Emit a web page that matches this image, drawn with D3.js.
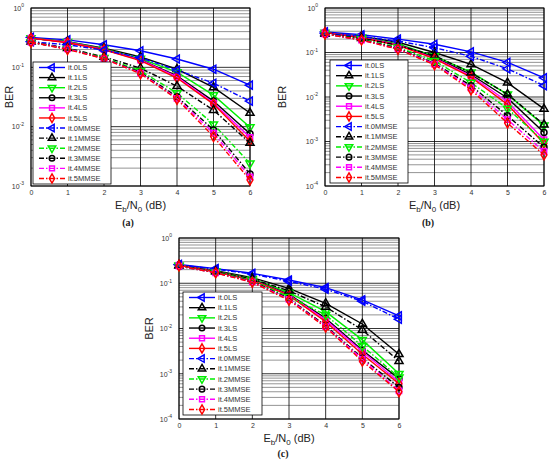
<!DOCTYPE html>
<html>
<head>
<meta charset="utf-8">
<script src="https://cdn.jsdelivr.net/npm/d3@7"></script>
<style>
  body { margin: 0; background: #fff; }
  svg { display: block; font-family: "Liberation Sans", Arial, sans-serif; }
</style>
</head>
<body>
<svg id="chart" width="550" height="463"></svg>
<script>
// Data (BER, x = Eb/N0 in dB)
var snrDb = [0, 1, 2, 3, 4, 5, 6]
var seriesNames = ["it.0LS", "it.1LS", "it.2LS", "it.3LS", "it.4LS", "it.5LS",
                   "it.0MMSE", "it.1MMSE", "it.2MMSE", "it.3MMSE", "it.4MMSE", "it.5MMSE"]
var panelLabels = ["(a)", "(b)", "(c)"]
var xTickLabels = ["0", "1", "2", "3", "4", "5", "6"]

var berA = [
  [0.32, 0.29, 0.24, 0.19, 0.138, 0.093, 0.050],
  [0.31, 0.27, 0.21, 0.15, 0.093, 0.046, 0.017],
  [0.31, 0.27, 0.205, 0.14, 0.083, 0.034, 0.0098],
  [0.31, 0.265, 0.20, 0.135, 0.072, 0.027, 0.0076],
  [0.31, 0.265, 0.20, 0.133, 0.069, 0.025, 0.0066],
  [0.31, 0.26, 0.198, 0.13, 0.066, 0.024, 0.0057],
  [0.27, 0.24, 0.195, 0.145, 0.09, 0.054, 0.027],
  [0.27, 0.21, 0.15, 0.097, 0.048, 0.019, 0.0053],
  [0.265, 0.205, 0.145, 0.087, 0.037, 0.011, 0.0024],
  [0.265, 0.205, 0.142, 0.082, 0.032, 0.0088, 0.0016],
  [0.265, 0.205, 0.14, 0.08, 0.030, 0.0078, 0.00142],
  [0.265, 0.20, 0.14, 0.078, 0.029, 0.0068, 0.00126]
]
var berB = [
  [0.29, 0.25, 0.20, 0.153, 0.103, 0.060, 0.027],
  [0.28, 0.23, 0.17, 0.10, 0.054, 0.021, 0.0054],
  [0.28, 0.22, 0.155, 0.083, 0.036, 0.0115, 0.0023],
  [0.28, 0.22, 0.15, 0.078, 0.032, 0.0095, 0.0016],
  [0.28, 0.22, 0.148, 0.075, 0.030, 0.0078, 0.0011],
  [0.28, 0.215, 0.145, 0.073, 0.028, 0.0068, 0.0009],
  [0.27, 0.23, 0.18, 0.128, 0.082, 0.043, 0.018],
  [0.26, 0.21, 0.145, 0.085, 0.035, 0.0115, 0.0024],
  [0.26, 0.20, 0.13, 0.065, 0.021, 0.0055, 0.0010],
  [0.26, 0.195, 0.125, 0.057, 0.018, 0.0038, 0.00074],
  [0.26, 0.19, 0.12, 0.055, 0.016, 0.0031, 0.0006],
  [0.26, 0.19, 0.118, 0.053, 0.0145, 0.0026, 0.0005]
]
var berC = [
  [0.26, 0.21, 0.166, 0.118, 0.080, 0.043, 0.019],
  [0.25, 0.19, 0.133, 0.077, 0.036, 0.0126, 0.0027],
  [0.25, 0.185, 0.125, 0.062, 0.0235, 0.0056, 0.0010],
  [0.25, 0.18, 0.12, 0.057, 0.0168, 0.0033, 0.00078],
  [0.25, 0.18, 0.118, 0.055, 0.0155, 0.0031, 0.00066],
  [0.25, 0.18, 0.116, 0.054, 0.0141, 0.0027, 0.0006],
  [0.255, 0.205, 0.16, 0.11, 0.074, 0.040, 0.016],
  [0.245, 0.18, 0.125, 0.068, 0.030, 0.0093, 0.0019],
  [0.24, 0.175, 0.115, 0.05, 0.020, 0.0041, 0.00083],
  [0.24, 0.17, 0.11, 0.046, 0.0115, 0.0022, 0.0005],
  [0.24, 0.17, 0.107, 0.044, 0.011, 0.0021, 0.00042],
  [0.24, 0.17, 0.105, 0.042, 0.0107, 0.0019, 0.0004]
]

////////////////////////////////////////////////////////////////////////////////
// Styles
var colors = ["#0000ff", "#000000", "#00ee00", "#000000", "#ff00ff", "#ff0000"]
var symbols = [
  [d3.symbolTriangle, -90], [d3.symbolTriangle, 0], [d3.symbolTriangle, 180],
  [d3.symbolCircle, 0], [d3.symbolSquare, 0], [d3.symbolDiamond, 0]
]
var dashDot = "5,2,1.5,2"

var panels = [
  {data: berA, x0: 31, x1: 250, top: 8, bottom: 186, low: 1e-3, yLab: 13,
   legend: {x: 33, y: 62, w: 78, h: 122}, capX: 128, capY: 226},
  {data: berB, x0: 325, x1: 544, top: 8, bottom: 186, low: 1e-4, yLab: 286,
   legend: {x: 330, y: 60, w: 78, h: 123}, capX: 428, capY: 226},
  {data: berC, x0: 179, x1: 399, top: 238, bottom: 419, low: 1e-4, yLab: 153,
   legend: {x: 183, y: 292, w: 79, h: 123}, capX: 283, capY: 457}
]

var svg = d3.select("#chart")

panels.forEach(function(p, pi) {
  var x = d3.scaleLinear().domain([0, 6]).range([p.x0, p.x1])
  var y = d3.scaleLog().domain([p.low, 1]).range([p.bottom, p.top])
  var g = svg.append("g")
  var w = p.x1 - p.x0

  // minor grid
  var minor = []
  for (var e = Math.log10(p.low); e < 0; e++)
    for (var m = 2; m <= 9; m++) minor.push(m * Math.pow(10, e))
  g.selectAll(".minor").data(minor).join("line")
    .attr("x1", p.x0).attr("x2", p.x1)
    .attr("y1", d => y(d)).attr("y2", d => y(d))
    .attr("stroke", "#666").attr("stroke-width", 0.7)

  // major grid
  var decades = d3.range(Math.log10(p.low), 1).map(e => Math.pow(10, e))
  g.selectAll(".major").data(decades).join("line")
    .attr("x1", p.x0).attr("x2", p.x1)
    .attr("y1", d => y(d)).attr("y2", d => y(d))
    .attr("stroke", "#000").attr("stroke-width", 0.8)
  g.selectAll(".vgrid").data(snrDb).join("line")
    .attr("x1", d => x(d)).attr("x2", d => x(d))
    .attr("y1", p.top).attr("y2", p.bottom)
    .attr("stroke", "#000").attr("stroke-width", 0.8)

  // frame
  g.append("rect").attr("x", p.x0).attr("y", p.top)
    .attr("width", w).attr("height", p.bottom - p.top)
    .attr("fill", "none").attr("stroke", "#000").attr("stroke-width", 0.9)

  // x tick labels
  g.append("g").attr("transform", "translate(0," + p.bottom + ")")
    .call(d3.axisBottom(x).tickValues(snrDb).tickSize(0).tickPadding(4)
      .tickFormat((d, i) => xTickLabels[i]))
    .call(a => a.select(".domain").remove())
    .selectAll("text").attr("font-size", 7).attr("fill", "#333")
    .attr("font-family", "Liberation Sans, Arial, sans-serif")

  // y tick labels 10^k
  var yAxis = g.append("g").attr("transform", "translate(" + p.x0 + ",0)")
    .call(d3.axisLeft(y).tickValues(decades).tickSize(0).tickPadding(3).tickFormat(""))
  yAxis.select(".domain").remove()
  yAxis.selectAll("text").each(function(d) {
    var t = d3.select(this).attr("font-size", 7).attr("fill", "#333")
      .attr("font-family", "Liberation Sans, Arial, sans-serif")
    t.append("tspan").text("10")
    t.append("tspan").attr("dy", -3.5).attr("font-size", 5).text(Math.round(Math.log10(d)))
    t.attr("dy", "0.32em").attr("dx", -4)
  })

  // axis labels
  var cx = (p.x0 + p.x1) / 2
  var xl = g.append("text").attr("x", cx).attr("y", p.bottom + 23)
    .attr("text-anchor", "middle").attr("font-size", 11).attr("fill", "#222")
  xl.append("tspan").text("E")
  xl.append("tspan").attr("dy", 3).attr("font-size", 8).text("b")
  xl.append("tspan").attr("dy", -3).text("/N")
  xl.append("tspan").attr("dy", 3).attr("font-size", 8).text("0")
  xl.append("tspan").attr("dy", -3).text(" (dB)")

  g.append("text")
    .attr("transform", "translate(" + p.yLab + "," + (p.top + p.bottom) / 2 + ") rotate(-90)")
    .attr("text-anchor", "middle").attr("font-size", 11).attr("fill", "#222").text("BER")

  g.append("text").attr("x", p.capX).attr("y", p.capY).attr("text-anchor", "middle")
    .attr("font-family", "Liberation Serif, serif").attr("font-weight", "bold")
    .attr("font-size", 10).attr("fill", "#222").text(panelLabels[pi])

  // series
  var line = d3.line().x((d, i) => x(snrDb[i])).y(d => y(d))
  p.data.forEach(function(vals, si) {
    var k = si % 6
    var mmse = si >= 6
    var sg = g.append("g")
    sg.append("path").attr("d", line(vals)).attr("fill", "none")
      .attr("stroke", colors[k]).attr("stroke-width", 1.4)
      .attr("stroke-dasharray", mmse ? dashDot : null)
    sg.selectAll("path.mk").data(vals).join("path").attr("class", "mk")
      .attr("d", d3.symbol().type(symbols[k][0]).size(28))
      .attr("transform", (d, i) => "translate(" + x(snrDb[i]) + "," + y(d) + ") rotate(" + symbols[k][1] + ")")
      .attr("fill", "none").attr("stroke", colors[k]).attr("stroke-width", 1.5)
  })

  // legend
  var L = p.legend
  var lg = g.append("g")
  lg.append("rect").attr("x", L.x).attr("y", L.y).attr("width", L.w).attr("height", L.h)
    .attr("fill", "#fff").attr("stroke", "#000").attr("stroke-width", 0.8)
  var rowH = (L.h - 11) / 11
  seriesNames.forEach(function(name, si) {
    var k = si % 6
    var ry = L.y + 5.5 + si * rowH
    lg.append("line").attr("x1", L.x + 6).attr("x2", L.x + 32).attr("y1", ry).attr("y2", ry)
      .attr("stroke", colors[k]).attr("stroke-width", 1.4)
      .attr("stroke-dasharray", si >= 6 ? dashDot : null)
    lg.append("path").attr("d", d3.symbol().type(symbols[k][0]).size(24))
      .attr("transform", "translate(" + (L.x + 19) + "," + ry + ") rotate(" + symbols[k][1] + ")")
      .attr("fill", "none").attr("stroke", colors[k]).attr("stroke-width", 1.5)
    lg.append("text").attr("x", L.x + 35).attr("y", ry).attr("dy", "0.35em")
      .attr("font-size", 7.5).attr("fill", "#333").text(name)
  })
})
</script>
</body>
</html>
